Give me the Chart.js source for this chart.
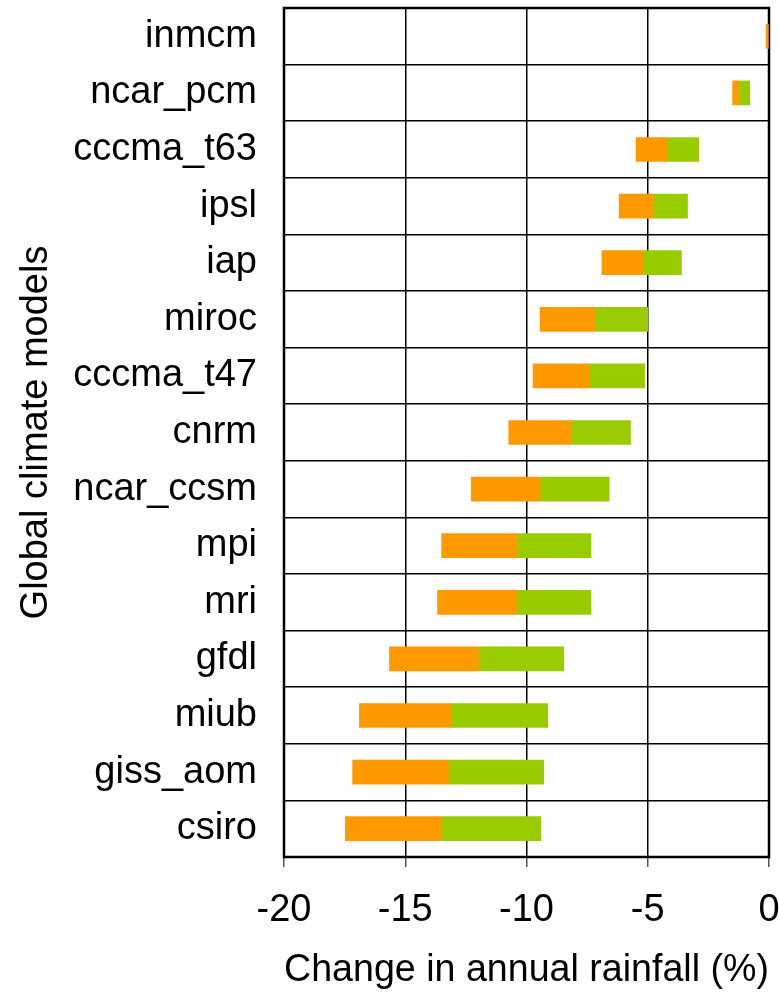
<!DOCTYPE html>
<html>
<head>
<meta charset="utf-8">
<script src="https://cdn.jsdelivr.net/npm/chart.js@4/dist/chart.umd.min.js"></script>
<style>
  html, body { margin: 0; padding: 0; background: #fff; }
  #wrap { width: 779px; height: 993px; }
</style>
</head>
<body>
<div id="wrap"><canvas id="rainChart" width="779" height="993"></canvas></div>
<script>
// Modelos y cambios de lluvia anual (%)
const models = ['inmcm', 'ncar_pcm', 'cccma_t63', 'ipsl', 'iap', 'miroc', 'cccma_t47', 'cnrm',
  'ncar_ccsm', 'mpi', 'mri', 'gfdl', 'miub', 'giss_aom', 'csiro'];
const lowEnd = [-0.12, -1.5, -5.48, -6.18, -6.89, -9.44, -9.73, -10.73, -12.28, -13.5, -13.67, -15.65, -16.89, -17.17, -17.47];
const midPoint = [0, -1.26, -4.19, -4.77, -5.19, -7.15, -7.43, -8.15, -9.44, -10.41, -10.41, -11.98, -13.09, -13.22, -13.5];
const highEnd = [0, -0.79, -2.9, -3.36, -3.61, -5.0, -5.13, -5.71, -6.59, -7.34, -7.34, -8.46, -9.12, -9.29, -9.41];
const xTicks = [-20, -15, -10, -5, 0];

const fontFamily = '"Liberation Sans", Arial, sans-serif';

// quitar el relleno automático de las escalas
function noPadding(scale) {
  scale.paddingTop = 0;
  scale.paddingBottom = 0;
  scale.paddingLeft = 0;
  scale.paddingRight = 0;
}

// marco negro alrededor del área del gráfico
const framePlugin = {
  id: 'frame',
  beforeDatasetsDraw(chart) {
    const a = chart.chartArea;
    const ctx = chart.ctx;
    ctx.save();
    ctx.strokeStyle = '#000';
    ctx.lineWidth = 2.5;
    ctx.strokeRect(a.left, a.top, a.right - a.left, a.bottom - a.top);
    ctx.restore();
  }
};

const rainChart = new Chart(
  document.getElementById('rainChart'),
  {
    type: 'bar',
    data: {
      labels: models,
      datasets: [
        {
          label: 'orange',
          data: models.map((m, i) => [lowEnd[i], midPoint[i]]),
          backgroundColor: '#FF9900',
          borderWidth: 0,
          grouped: false,
          barThickness: 24
        },
        {
          label: 'green',
          data: models.map((m, i) => [midPoint[i], highEnd[i]]),
          backgroundColor: '#99CC00',
          borderWidth: 0,
          grouped: false,
          barThickness: 24
        }
      ]
    },
    options: {
      indexAxis: 'y',
      responsive: false,
      animation: false,
      layout: { padding: { left: 0, right: 10, top: 8, bottom: 0 } },
      plugins: {
        legend: { display: false },
        tooltip: { enabled: false }
      },
      scales: {
        x: {
          min: -20,
          max: 0,
          afterBuildTicks: function(scale) {
            scale.ticks = xTicks.map(v => ({ value: v }));
          },
          afterFit: function(scale) {
            scale.height = 136;
            noPadding(scale);
          },
          grid: {
            color: '#000',
            lineWidth: 1.5,
            drawTicks: true,
            tickLength: 10,
            tickColor: '#555'
          },
          border: { display: false },
          ticks: {
            color: '#000',
            padding: 21,
            maxRotation: 0,
            font: { family: fontFamily, size: 38 }
          },
          title: {
            display: true,
            text: 'Change in annual rainfall (%)',
            color: '#000',
            padding: { top: 0, bottom: 0 },
            font: { family: fontFamily, size: 38 }
          }
        },
        y: {
          afterFit: function(scale) {
            scale.width = 284;
            noPadding(scale);
          },
          grid: {
            color: '#000',
            lineWidth: 1.5,
            drawTicks: false,
            offset: true
          },
          border: { display: false },
          ticks: {
            color: '#000',
            padding: 27,
            font: { family: fontFamily, size: 38 }
          },
          title: {
            display: true,
            text: 'Global climate models',
            color: '#000',
            padding: { top: 14, bottom: 0 },
            font: { family: fontFamily, size: 38 }
          }
        }
      }
    },
    plugins: [framePlugin]
  }
);
</script>
</body>
</html>
